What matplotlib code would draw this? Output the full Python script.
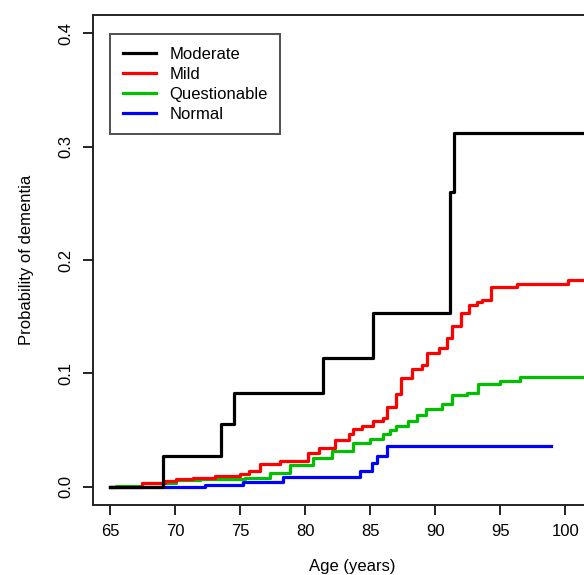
import matplotlib
matplotlib.use("Agg")
import matplotlib.pyplot as plt

plt.rcParams['font.family'] = ['Liberation Sans', 'DejaVu Sans']

# Step curves (age in years, cumulative probability)
moderate_age = [65, 69.1, 73.5, 74.5, 81.4, 85.2, 91.1, 91.4, 103.5]
moderate_p = [0, 0.027, 0.055, 0.083, 0.114, 0.153, 0.26, 0.312, 0.312]

mild_age = [65, 67.5, 69.2, 70.1, 71.4, 73.1, 75.0, 75.7, 76.5, 78.1, 80.2,
            81.1, 82.3, 83.4, 83.7, 84.4, 85.2, 86.0, 86.3, 87.0, 87.4, 88.2,
            89.0, 89.4, 90.3, 90.9, 91.3, 92.0, 92.6, 93.2, 93.6, 94.3, 96.3,
            100.2, 103.5]
mild_p = [0, 0.003, 0.005, 0.007, 0.008, 0.010, 0.011, 0.014, 0.020, 0.023,
          0.030, 0.034, 0.041, 0.047, 0.051, 0.054, 0.058, 0.061, 0.070, 0.082,
          0.096, 0.104, 0.107, 0.118, 0.122, 0.131, 0.142, 0.153, 0.160, 0.163,
          0.165, 0.176, 0.179, 0.182, 0.182]

quest_age = [65, 65.5, 67.5, 70.1, 71.9, 75.4, 77.3, 78.8, 80.6, 82.1, 83.7,
             85.0, 86.0, 86.5, 87.0, 87.9, 88.6, 89.3, 90.5, 91.3, 92.4, 93.3,
             95.0, 96.5, 103.5]
quest_p = [0, 0.001, 0.0035, 0.006, 0.007, 0.008, 0.012, 0.019, 0.025, 0.032,
           0.039, 0.042, 0.047, 0.050, 0.054, 0.058, 0.063, 0.069, 0.073, 0.081,
           0.083, 0.091, 0.093, 0.0965, 0.0965]

normal_age = [65, 72.3, 75.2, 78.3, 84.2, 85.1, 85.5, 86.3, 98.9]
normal_p = [0, 0.002, 0.004, 0.009, 0.014, 0.021, 0.027, 0.036, 0.036]

x_ticks = [65, 70, 75, 80, 85, 90, 95, 100]
y_ticks = [0.0, 0.1, 0.2, 0.3, 0.4]

fig = plt.figure(figsize=(5.84, 5.75), dpi=100)
# axes runs past the right edge of the figure, as in the cropped original
ax = fig.add_axes([93 / 584, 70 / 575, 518 / 584, 490 / 575])

lw = 2.3
ax.plot(normal_age, normal_p, drawstyle='steps-post', color='#0000FF', lw=lw)
ax.plot(quest_age, quest_p, drawstyle='steps-post', color='#00C000', lw=lw)
ax.plot(mild_age, mild_p, drawstyle='steps-post', color='#FF0000', lw=lw)
ax.plot(moderate_age, moderate_p, drawstyle='steps-post', color='black', lw=lw)

ax.set_xlim(63.7, 103.5)
ax.set_ylim(-0.016, 0.416)
ax.set_xticks(x_ticks)
ax.set_xticklabels([str(t) for t in x_ticks])
ax.set_yticks(y_ticks)
ax.set_yticklabels(["%.1f" % t for t in y_ticks], rotation=90, va='center')

for s in ax.spines.values():
    s.set_linewidth(1.4)
    s.set_color('#222222')
ax.tick_params(direction='out', length=7, width=1.4, color='#222222',
               labelsize=12)
ax.tick_params(axis='x', pad=7)
ax.tick_params(axis='y', pad=7)

ax.set_xlabel("Age (years)", fontsize=12, labelpad=14)
ax.set_ylabel("Probability of dementia", fontsize=12, labelpad=18)

# legend built from proxy lines so the order matches the original
handles = [plt.Line2D([], [], color=c, lw=lw)
           for c in ['black', '#FF0000', '#00C000', '#0000FF']]
leg = ax.legend(handles, ["Moderate", "Mild", "Questionable", "Normal"],
                loc='upper left', bbox_to_anchor=(0.033, 0.961),
                fontsize=12, frameon=True, fancybox=False,
                handlelength=2.0, handletextpad=0.8, labelspacing=0.3,
                borderpad=0.75, borderaxespad=0)
leg.get_frame().set_edgecolor('#222222')
leg.get_frame().set_linewidth(1.4)

fig.savefig("out.png", dpi=100)
